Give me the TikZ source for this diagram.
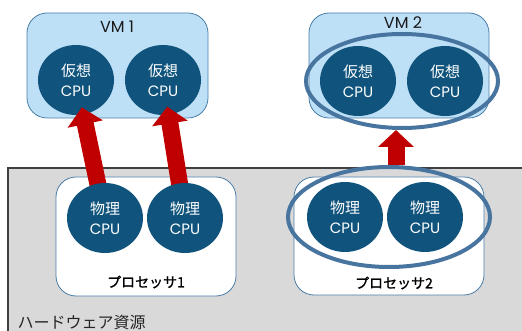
\documentclass[tikz,border=0pt]{standalone}
\usepackage{fontspec}
\setmainfont{Poppins}
\newfontfamily\jp{Noto Sans CJK JP}
\newfontfamily\jpb[FakeBold=1.2]{Noto Sans CJK JP}
\usetikzlibrary{arrows.meta,shapes.geometric}
\definecolor{cpublue}{RGB}{16,84,125}
\definecolor{vmfill}{RGB}{189,224,247}
\definecolor{vmedge}{RGB}{74,126,168}
\definecolor{ringblue}{RGB}{71,117,160}
\definecolor{hwgray}{RGB}{217,217,217}
\definecolor{hwedge}{RGB}{64,64,64}
\definecolor{arrowred}{RGB}{192,0,0}
\pgfdeclarelayer{back}
\pgfdeclarelayer{mid}
\pgfsetlayers{back,mid,main}
\begin{document}
\begin{tikzpicture}[x=1pt,y=-1pt,
  cpu/.style={ellipse, fill=cpublue, minimum width=76pt, minimum height=70pt,
    inner sep=0pt, text=white, align=center, font=\fontsize{15}{20}\selectfont},
  vmbox/.style={draw=vmedge, fill=vmfill, rounded corners=20pt, line width=0.8pt},
  procbox/.style={draw=vmedge, fill=white, rounded corners=20pt, line width=0.8pt},
  ring/.style={ellipse, draw=ringblue, line width=4pt, inner sep=0pt},
  bigarrow/.style={draw=arrowred, line width=17pt, -{Triangle[width=35pt,length=17pt]}},
  vmlabel/.style={text=black!90, font=\fontsize{16}{18}\selectfont},
]
\useasboundingbox (0,0) rectangle (522,331);

\begin{pgfonlayer}{back}
  % hardware area
  \path[fill=hwgray] (8,168) rectangle (530,340);
  \draw[hwedge, line width=1.2pt] (8,340) -- (8,168) -- (530,168);
  \node[anchor=west, text=black!85, font=\jp\fontsize{16}{18}\selectfont] (hw) at (14,322) {ハードウェア資源};

  % processor boxes
  \path[procbox] (56,177) rectangle (236,296);
  \path[procbox] (294,177) rectangle (484,295);
  \node[font=\jpb\fontsize{14}{16}\selectfont] (proc1) at (146,282) {プロセッサ1};
  \node[font=\jpb\fontsize{14}{16}\selectfont] (proc2) at (394,283) {プロセッサ2};

  % virtual machines
  \path[vmbox] (27,13) rectangle (208,118);
  \path[vmbox] (309,13) rectangle (489,118);
  \node[vmlabel] (vm1) at (117,27) {VM 1};
  \node[vmlabel] (vm2) at (403,23) {VM 2};

  % virtual CPUs
  \node[cpu] (v1) at (76,80) {{\jp 仮想}\\CPU};
  \node[cpu] (v2) at (163,80) {{\jp 仮想}\\CPU};
  \node[cpu] (v3) at (358,81) {{\jp 仮想}\\CPU};
  \node[cpu] (v4) at (445,81) {{\jp 仮想}\\CPU};
\end{pgfonlayer}

% physical CPUs
\node[cpu] (p1) at (105,218) {{\jp 物理}\\CPU};
\node[cpu] (p2) at (185,218) {{\jp 物理}\\CPU};
\node[cpu] (p3) at (345,217) {{\jp 物理}\\CPU};
\node[cpu] (p4) at (425,217) {{\jp 物理}\\CPU};

% grouping rings
\node[ring, minimum width=202pt, minimum height=100pt] (e2) at (389,217) {};
\node[ring, minimum width=192pt, minimum height=94pt] (e1) at (402,81) {};

% allocation arrows, under the physical CPUs and rings
\begin{pgfonlayer}{mid}
  \draw[bigarrow, shorten >=28pt] (p1.center) -- (v1.center);
  \draw[bigarrow, shorten >=27pt] (p2.center) -- (v2.center);
  \draw[bigarrow] ([xshift=7pt]e2.north) -- ([xshift=-6pt]e1.south);
\end{pgfonlayer}
\end{tikzpicture}
\end{document}
